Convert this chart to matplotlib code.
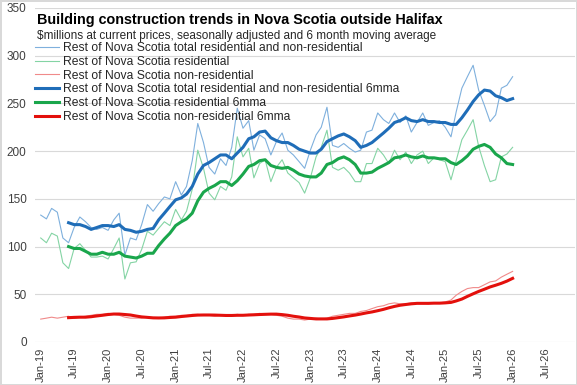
import numpy as np
import pandas as pd
import matplotlib
matplotlib.use("Agg")
import matplotlib.pyplot as plt
import matplotlib.dates as mdates

plt.rcParams['font.family'] = ['Liberation Sans', 'DejaVu Sans']

# monthly data, Jan-2019 .. Jan-2026 ($ millions)
months = pd.date_range("2019-01-01", "2026-01-01", freq="MS")
ma_months = months[5:]

total = [133, 129, 140, 136, 109, 104, 120, 131, 126, 120, 118, 120,
         117, 128, 135, 91, 109, 107, 123, 144, 137, 145, 152, 150,
         168, 154, 163, 190, 229, 209, 183, 176, 192, 185, 204, 245,
         224, 232, 201, 217, 213, 196, 210, 219, 201, 196, 189, 182,
         201, 217, 225, 246, 206, 204, 208, 203, 199, 201, 220, 222,
         240, 233, 229, 240, 230, 237, 220, 230, 240, 227, 230, 232,
         225, 215, 241, 266, 278, 290, 264, 248, 231, 238, 266, 269,
         278]
residential = [109, 104, 114, 111, 83, 77, 98, 103, 96, 89, 89, 90,
               87, 98, 109, 66, 83, 84, 97, 116, 112, 119, 126, 122,
               139, 128, 137, 160, 201, 182, 156, 149, 163, 159, 173, 215,
               194, 203, 172, 187, 191, 168, 183, 191, 177, 172, 167, 156,
               172, 194, 204, 222, 183, 180, 183, 177, 168, 168, 187, 187,
               203, 196, 187, 201, 191, 199, 187, 196, 200, 187, 193, 191,
               189, 170, 190, 212, 222, 233, 205, 185, 168, 170, 194, 197,
               204]
nonres = [24, 25, 26, 25, 26, 27, 25, 26, 27, 28, 29, 29,
          30, 29, 28, 26, 25, 25, 25, 26, 25, 25, 26, 27,
          27, 28, 28, 29, 29, 28, 28, 27, 28, 28, 28, 29,
          28, 29, 29, 30, 29, 29, 28, 27, 25, 24, 24, 23,
          24, 25, 24, 25, 27, 28, 29, 30, 30, 32, 33, 35,
          37, 38, 40, 41, 40, 40, 41, 41, 41, 40, 41, 41,
          42, 44, 49, 53, 56, 57, 57, 60, 63, 64, 68, 71,
          74]

# 6 month moving averages, Jun-2019 .. Jan-2026
total_ma = [125, 123, 123, 121, 118, 120, 122,
            122, 121, 123, 118, 117, 115, 116, 118, 119, 128, 135, 142,
            149, 151, 155, 163, 176, 185, 188, 192, 196, 196, 192, 198,
            204, 213, 215, 220, 221, 214, 211, 209, 209, 206, 202, 200,
            198, 198, 202, 210, 213, 216, 218, 215, 211, 204, 206, 209,
            214, 219, 224, 230, 232, 235, 232, 231, 233, 231, 231, 230,
            230, 228, 228, 235, 243, 252, 259, 264, 263, 258, 256, 253,
            255]
res_ma = [100, 98, 98, 95, 92, 92, 94,
          92, 92, 94, 90, 89, 88, 90, 93, 93, 101, 108, 114,
          122, 126, 129, 135, 148, 157, 161, 164, 168, 168, 164, 169,
          176, 184, 186, 190, 191, 185, 183, 182, 183, 180, 176, 174,
          173, 173, 177, 186, 188, 192, 194, 191, 186, 177, 177, 178,
          182, 185, 188, 193, 194, 196, 194, 193, 195, 193, 193, 192,
          192, 188, 186, 190, 195, 202, 205, 207, 204, 197, 193, 187,
          186]
nonres_ma = [25.5, 25.8, 26, 26, 26.5, 27.3, 28,
             28.8, 29.3, 29.3, 28.8, 28.3, 27.2, 26.3, 25.8, 25.3, 25.2, 25.3, 25.7,
             26, 26.7, 27.2, 27.8, 28.2, 28.3, 28.3, 28.2, 28, 27.8, 27.8, 28,
             28, 28.3, 28.5, 28.8, 29, 29.2, 29.2, 28.7, 28, 27, 26.2, 25.2,
             24.7, 24.2, 24.2, 24.2, 24.7, 25.5, 26.3, 27.3, 28.2, 29.3, 30.5, 31.5,
             32.8, 34.2, 35.8, 37.3, 38.5, 39.3, 40, 40.5, 40.5, 40.5, 40.7, 40.7,
             41, 41.5, 43, 45, 47.8, 50.5, 53, 55.3, 57.7, 59.5, 61.5, 63.8,
             66.7]

fig = plt.figure(figsize=(5.77, 3.85), dpi=100)
fig.patch.set_edgecolor('#d9d9d9')
fig.patch.set_linewidth(1.0)
ax = fig.add_axes([35 / 577, 1 - 342 / 385, 540 / 577, 334 / 385])

ax.plot(months, total, color='#7fb0dd', lw=0.8,
        label='Rest of Nova Scotia total residential and non-residential')
ax.plot(months, residential, color='#84d4a4', lw=0.8,
        label='Rest of Nova Scotia residential')
ax.plot(months, nonres, color='#f08a8a', lw=0.8,
        label='Rest of Nova Scotia non-residential')
ax.plot(ma_months, total_ma, color='#1f6db8', lw=2.2,
        label='Rest of Nova Scotia total residential and non-residential 6mma')
ax.plot(ma_months, res_ma, color='#1aa64c', lw=2.2,
        label='Rest of Nova Scotia residential 6mma')
ax.plot(ma_months, nonres_ma, color='#e3100c', lw=2.2,
        label='Rest of Nova Scotia non-residential 6mma')

ax.set_xlim(pd.Timestamp("2018-12-01"), pd.Timestamp("2026-12-05"))
ax.set_ylim(0, 350)
ax.set_yticks(range(0, 351, 50))
ax.xaxis.set_major_locator(mdates.MonthLocator(bymonth=[1, 7]))
ax.xaxis.set_major_formatter(mdates.DateFormatter('%b-%y'))
ax.tick_params(axis='x', rotation=90, labelsize=8, colors='#404040', length=0, pad=4)
ax.tick_params(axis='y', labelsize=8.5, colors='#404040', length=0, pad=6)
ax.grid(axis='y', color='#d9d9d9', lw=0.8)
ax.set_axisbelow(True)
for s in ax.spines.values():
    s.set_visible(False)

fig.text(37 / 577, 1 - 20 / 385, 'Building construction trends in Nova Scotia outside Halifax',
         fontsize=10.4, fontweight='bold', color='black', va='center')
fig.text(37 / 577, 1 - 36 / 385,
         '\\$millions at current prices, seasonally adjusted and 6 month moving average',
         fontsize=8.5, color='#262626', va='center')

leg = ax.legend(loc='upper left', bbox_to_anchor=(0.0, 1 - 34 / 334), frameon=False,
                fontsize=8.7, handlelength=2.0, handletextpad=0.35, labelspacing=0.15,
                borderaxespad=0, borderpad=0)
for t in leg.get_texts():
    t.set_color('#262626')

fig.savefig('out.png', dpi=100)
